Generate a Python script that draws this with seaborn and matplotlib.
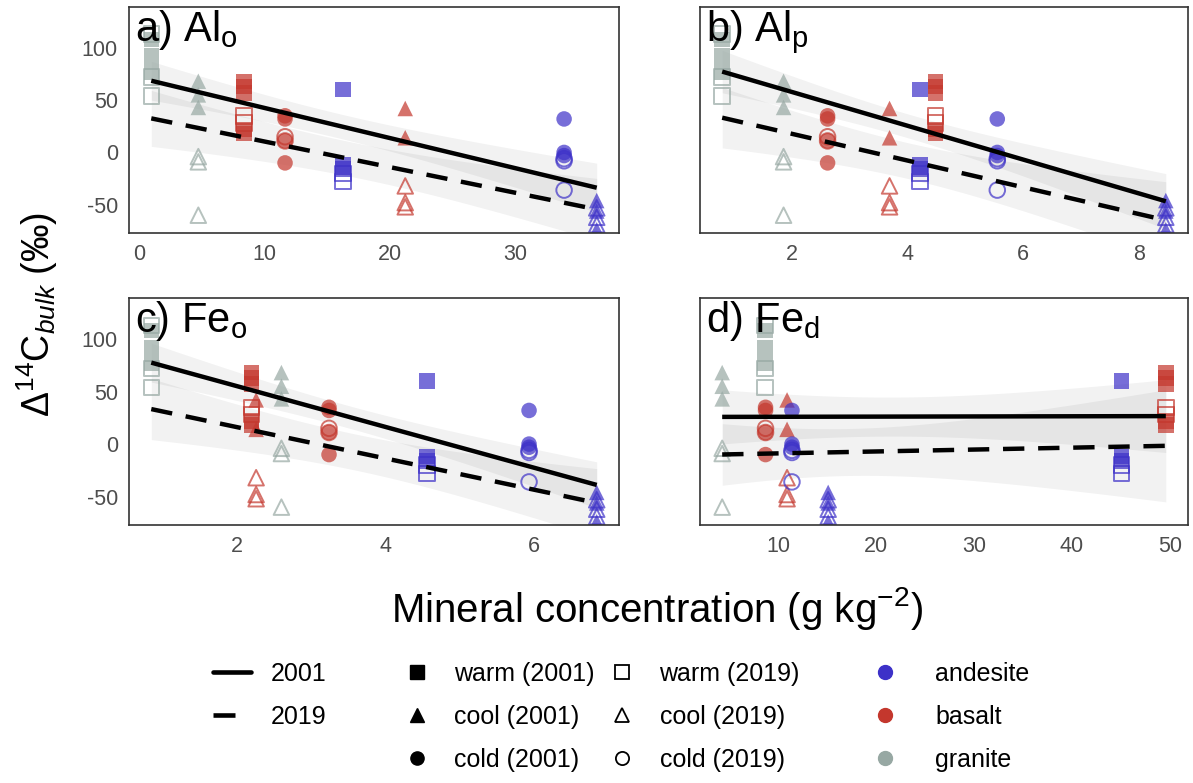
import numpy as np
import pandas as pd
import seaborn as sns
import matplotlib.pyplot as plt
from matplotlib.lines import Line2D

# sites: parent material x climate
parent = ["granite", "granite", "basalt", "basalt", "basalt", "andesite", "andesite", "andesite"]
climate = ["warm", "cool", "warm", "cold", "cool", "warm", "cold", "cool"]

# mineral concentration of each site, per panel
x_alo = [1.0, 4.75, 8.4, 11.66, 21.24, 16.26, 33.9, 36.5]
x_alp = [0.8, 1.86, 4.48, 2.62, 3.69, 4.22, 5.55, 8.46]
x_feo = [0.85, 2.6, 2.2, 3.24, 2.26, 4.56, 5.93, 6.84]
x_fed = [8.64, 4.27, 49.6, 8.7, 10.9, 45.05, 11.4, 15.1]

# bulk radiocarbon values per site
d14_2001 = [[108, 92, 77], [68, 55, 43], [68, 63, 57, 22, 18], [35, 32, 11, -10],
            [42, 14], [60, -12, -16], [32, 0, -3], [-46, -56, -74]]
d14_2019 = [[113, 72, 54], [-4, -9, -60], [35, 28], [15, 11],
            [-32, -48, -52], [-20, -28], [-6, -8, -36], [-53, -62, -69]]

panels = ["a", "b", "c", "d"]
panel_titles = [r"a) Al$_\mathrm{o}$", r"b) Al$_\mathrm{p}$", r"c) Fe$_\mathrm{o}$", r"d) Fe$_\mathrm{d}$"]
panel_x = [x_alo, x_alp, x_feo, x_fed]
panel_ticks = [[0, 10, 20, 30], [2, 4, 6, 8], [2, 4, 6], [10, 20, 30, 40, 50]]

palette = {"andesite": "#3d31c8", "basalt": "#c4372d", "granite": "#97a8a3"}
markers = {"warm": "s", "cool": "^", "cold": "o"}

rows = []
for p, xs in zip(panels, panel_x):
    for i in range(len(parent)):
        for yr, vals in (("2001", d14_2001[i]), ("2019", d14_2019[i])):
            for v in vals:
                rows.append(dict(panel=p, x=xs[i], d14=v, year=yr,
                                 climate=climate[i], parent=parent[i]))
df = pd.DataFrame(rows)


def t975(dof):
    z = 1.959964
    g1 = (z**3 + z) / 4
    g2 = (5 * z**5 + 16 * z**3 + 3 * z) / 96
    g3 = (3 * z**7 + 19 * z**5 + 17 * z**3 - 15 * z) / 384
    return z + g1 / dof + g2 / dof**2 + g3 / dof**3


def lm_fit(x, y):
    # ordinary least squares with a 95% confidence band (like geom_smooth(method="lm"))
    x = np.asarray(x, float)
    y = np.asarray(y, float)
    n = len(x)
    slope, icpt = np.polyfit(x, y, 1)
    resid = y - (icpt + slope * x)
    s = np.sqrt(np.sum(resid**2) / (n - 2))
    sxx = np.sum((x - x.mean())**2)
    grid = np.linspace(x.min(), x.max(), 80)
    fit = icpt + slope * grid
    se = s * np.sqrt(1 / n + (grid - x.mean())**2 / sxx)
    t = t975(n - 2)
    return grid, fit, fit - t * se, fit + t * se


sns.set_theme(style="white")
plt.rcParams["font.family"] = ["Liberation Sans", "DejaVu Sans"]
plt.rcParams["text.color"] = "black"
plt.rcParams["mathtext.fontset"] = "custom"
plt.rcParams["mathtext.rm"] = "Liberation Sans"
plt.rcParams["mathtext.it"] = "Liberation Sans:italic"

W, H = 1193, 783
fig = plt.figure(figsize=(W / 100, H / 100), dpi=100)
boxes = {"a": (129, 7, 619, 233), "b": (700, 7, 1188, 233),
         "c": (129, 298, 619, 525), "d": (700, 298, 1188, 525)}

axes = {}
for p in panels:
    l, t, r, b = boxes[p]
    axes[p] = fig.add_axes([l / W, 1 - b / H, (r - l) / W, (b - t) / H])

for k, p in enumerate(panels):
    ax = axes[p]
    sub = df[df.panel == p]
    for yr in ["2001", "2019"]:
        s = sub[sub.year == yr]
        sns.scatterplot(data=s, x="x", y="d14", hue="parent", style="climate",
                        palette=palette, markers=markers, s=125, alpha=0.7,
                        edgecolor="none", linewidth=0, legend=False, ax=ax, zorder=2)
        if yr == "2019":
            pts = ax.collections[-1]
            fc = pts.get_facecolors()
            pts.set_facecolors("none")
            pts.set_edgecolors(fc)
            pts.set_linewidths(1.4)
    for yr in ["2001", "2019"]:
        s = sub[sub.year == yr]
        gx, fit, lo, hi = lm_fit(s["x"], s["d14"])
        ax.fill_between(gx, lo, hi, color="black", alpha=0.05, lw=0, zorder=1)
        sns.lineplot(x=gx, y=fit, color="black", lw=3.2, ax=ax, zorder=3)
        ln = ax.lines[-1]
        ln.set_solid_capstyle("butt")
        if yr == "2019":
            ln.set_dashes((4.8, 3.1))
            ln.set_dash_capstyle("butt")

    ax.set_ylim(-77, 139)
    ax.set_yticks([-50, 0, 50, 100])
    ax.set_xticks(panel_ticks[k])
    ax.set_xlabel("")
    ax.set_ylabel("")
    ax.margins(x=0.05)
    if p in ("b", "d"):
        ax.set_yticklabels([])
    else:
        ax.set_yticklabels(["-50", "0", "50", "100"])
    for sp in ax.spines.values():
        sp.set_color("#333333")
        sp.set_linewidth(1.2)
    ax.tick_params(length=4.5, width=1.2, color="#333333", labelcolor="#4d4d4d",
                   labelsize=15.5, pad=3.5)
    ax.text(0.012, 0.995, panel_titles[k], transform=ax.transAxes, ha="left",
            va="top", fontsize=30, color="black", zorder=5)

fig.text(657 / W, 1 - 609 / H, r"Mineral concentration (g kg$^{-2}$)",
         ha="center", va="center", fontsize=29, color="black")
fig.text(37 / W, 1 - 315 / H, r"$\Delta^{14}$C$_{bulk}$ (‰)",
         ha="center", va="center", rotation=90, fontsize=27, color="black")

# legends
leg_kw = dict(frameon=False, fontsize=18, borderpad=0, borderaxespad=0,
              labelspacing=0.75, loc="upper left", labelcolor="black")
top = 1 - 662 / H
h1 = [Line2D([], [], color="black", lw=3.3),
      Line2D([], [], color="black", lw=3.3, dashes=(4.8, 5))]
fig.legend(h1, ["2001", "2019"], bbox_to_anchor=(213 / W, top),
           handlelength=1.5, handletextpad=0.8, **leg_kw)
h2 = [Line2D([], [], ls="none", marker=m, color="black", markersize=9.5)
      for m in ["s", "^", "o"]]
fig.legend(h2, ["warm (2001)", "cool (2001)", "cold (2001)"],
           bbox_to_anchor=(407 / W, top), handlelength=0.8,
           handletextpad=1.1, **leg_kw)
h3 = [Line2D([], [], ls="none", marker=m, markerfacecolor="none",
             markeredgecolor="black", markeredgewidth=1.3, markersize=9.5)
      for m in ["s", "^", "o"]]
fig.legend(h3, ["warm (2019)", "cool (2019)", "cold (2019)"],
           bbox_to_anchor=(612 / W, top), handlelength=0.8,
           handletextpad=1.1, **leg_kw)
h4 = [Line2D([], [], ls="none", marker="o", color=palette[g], markersize=10)
      for g in ["andesite", "basalt", "granite"]]
fig.legend(h4, ["andesite", "basalt", "granite"],
           bbox_to_anchor=(875 / W, top), handlelength=0.8,
           handletextpad=1.6, **leg_kw)

fig.savefig("out.png", dpi=100)
